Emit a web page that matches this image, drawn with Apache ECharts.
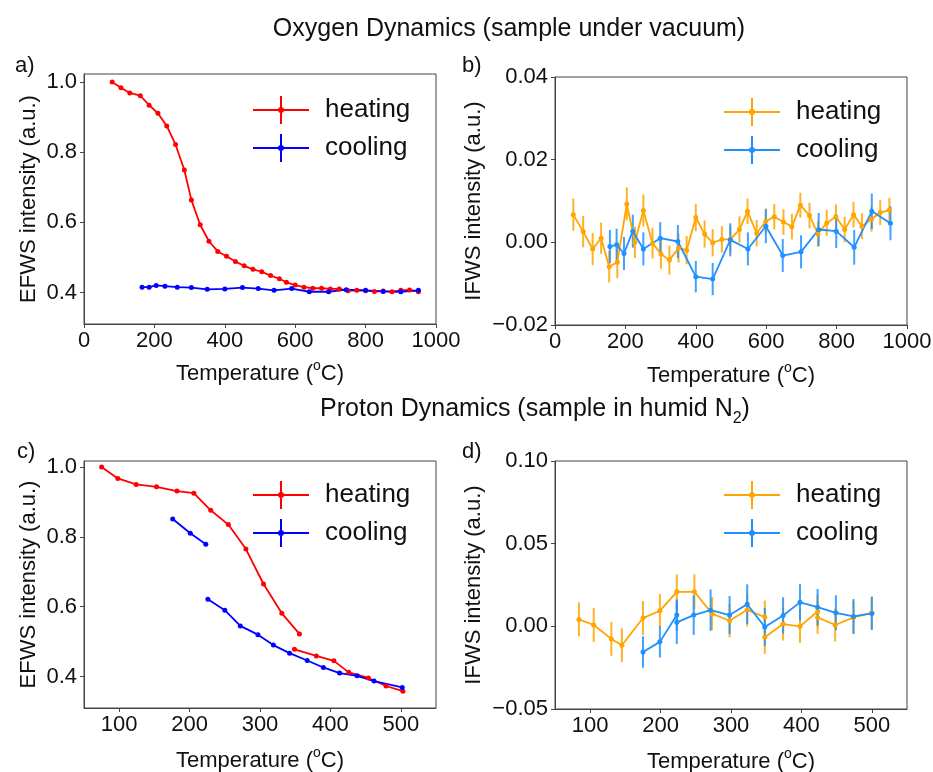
<!DOCTYPE html>
<html lang="en">
<head>
<meta charset="utf-8">
<title>EFWS / IFWS</title>
<script src="https://cdn.jsdelivr.net/npm/echarts@6/dist/echarts.min.js"></script>
<style>
  html, body { margin: 0; background: #fff; }
  #main { width: 933px; height: 772px; }
</style>
</head>
<body>
<div id="main"></div>
<script>
// a) oxygen, EFWS
var aHeatT = [80,105,130,160,185,210,235,260,285,305,330,355,380,405,430,455,480,505,530,555,575,600,625,650,675,700,725,750,775,800,825,850,875,900,925,950];
var aHeatV = [1.0,0.984,0.969,0.961,0.934,0.911,0.875,0.822,0.749,0.664,0.593,0.546,0.517,0.503,0.488,0.476,0.466,0.459,0.448,0.439,0.429,0.421,0.415,0.412,0.412,0.410,0.410,0.405,0.406,0.405,0.403,0.404,0.402,0.406,0.407,0.402];
var aCoolT = [165,185,205,230,265,305,350,400,450,495,540,590,640,695,745,800,850,900,950];
var aCoolV = [0.415,0.415,0.420,0.418,0.415,0.414,0.409,0.410,0.414,0.411,0.406,0.411,0.402,0.402,0.408,0.406,0.403,0.402,0.406];

// b) oxygen, IFWS
var bHeatT = [52,80,107,131,154,177,204,227,251,277,301,325,351,374,400,425,448,474,498,524,547,573,599,623,649,673,697,723,747,772,798,823,848,872,899,924,950];
var bHeatV = [0.0067,0.0026,-0.0016,0.0010,-0.0059,-0.0048,0.0093,0.0000,0.0077,-0.0002,-0.0028,-0.0043,-0.0014,-0.0019,0.0060,0.0020,-0.0001,0.0007,0.0007,0.0031,0.0075,0.0022,0.0051,0.0062,0.0049,0.0038,0.0090,0.0065,0.0020,0.0047,0.0062,0.0031,0.0067,0.0039,0.0056,0.0072,0.0078];
var bHeatE = [0.0039,0.0038,0.0039,0.0038,0.0038,0.0039,0.0040,0.0038,0.0039,0.0037,0.0036,0.0035,0.0035,0.0034,0.0033,0.0033,0.0033,0.0032,0.0032,0.0032,0.0031,0.0032,0.0031,0.0031,0.0031,0.0031,0.0030,0.0031,0.0031,0.0031,0.0030,0.0031,0.0031,0.0031,0.0030,0.0030,0.0030];
var bCoolT = [156,175,196,221,251,299,349,400,448,498,548,599,647,699,749,799,850,900,953];
var bCoolV = [-0.0010,-0.0006,-0.0027,0.0027,-0.0016,0.0010,0.0002,-0.0083,-0.0089,0.0006,-0.0016,0.0039,-0.0032,-0.0023,0.0031,0.0027,-0.0012,0.0075,0.0046];
var bCoolE = [0.0040,0.0039,0.0040,0.0040,0.0040,0.0039,0.0040,0.0038,0.0039,0.0040,0.0040,0.0041,0.0040,0.0040,0.0040,0.0041,0.0042,0.0043,0.0041];

// c) proton, EFWS (two runs each)
var cHeatT1 = [75,98,124,153,182,206,230,255,280,305,331,356];
var cHeatV1 = [1.0,0.967,0.950,0.943,0.931,0.925,0.876,0.835,0.765,0.665,0.581,0.522];
var cHeatT2 = [349,380,405,426,454,479,503];
var cHeatV2 = [0.478,0.459,0.445,0.412,0.396,0.373,0.358];
var cCoolT1 = [176,201,223];
var cCoolV1 = [0.851,0.810,0.779];
var cCoolT2 = [226,250,272,297,319,342,367,390,413,438,462,502];
var cCoolV2 = [0.621,0.590,0.545,0.520,0.490,0.467,0.446,0.426,0.410,0.402,0.387,0.369];

// d) proton, IFWS
var dHeatT1 = [84,105,130,145,175,199,223,248,273,298,323,348];
var dHeatV1 = [0.0042,0.0008,-0.0076,-0.0114,0.0050,0.0094,0.0209,0.0209,0.0077,0.0034,0.0100,0.0056];
var dHeatE1 = [0.0103,0.0103,0.0102,0.0102,0.0103,0.0103,0.0105,0.0105,0.0100,0.0100,0.0100,0.0100];
var dHeatT2 = [348,374,398,423];
var dHeatV2 = [-0.0066,0.0014,0.0000,0.0090];
var dHeatE2 = [0.0100,0.0100,0.0100,0.0100];
var dHeatT3 = [423,448,474,500];
var dHeatV3 = [0.0054,0.0008,0.0054,0.0082];
var dHeatE3 = [0.0100,0.0100,0.0100,0.0100];
var dCoolT1 = [175,199,223];
var dCoolV1 = [-0.0155,-0.0094,0.0068];
var dCoolE1 = [0.0095,0.0095,0.0095];
var dCoolT2 = [223,247,271,298,323,348,374,398,423,449,474,500];
var dCoolV2 = [0.0024,0.0068,0.0098,0.0068,0.0134,-0.0004,0.0066,0.0145,0.0116,0.0082,0.0060,0.0078];
var dCoolE2 = [0.0130,0.0120,0.0125,0.0115,0.0120,0.0115,0.0110,0.0110,0.0110,0.0105,0.0105,0.0100];

var efwsTicks = [0.4, 0.6, 0.8, 1.0];
var tempTicksLow = [100, 200, 300, 400, 500];

var RED = '#ff0000', BLUE = '#0000ff', ORANGE = '#ffa500', SKY = '#1e90ff';
var FONT = '"Liberation Sans", Arial, sans-serif';
var FRAME = '#444';
var INK = '#111';

function pairs(t, v) { return t.map(function (x, i) { return [x, v[i]]; }); }
function bars(t, v, e) { return t.map(function (x, i) { return [x, v[i] - e[i], v[i] + e[i]]; }); }
function minus(s) { return s.replace('-', '\u2212'); }

function lineSeries(name, t, v, color, gi) {
  return {
    type: 'line', name: name, xAxisIndex: gi, yAxisIndex: gi,
    data: pairs(t, v), symbol: 'circle', symbolSize: 5, showSymbol: true,
    itemStyle: { color: color }, lineStyle: { color: color, width: 1.8 },
    z: 3, animation: false
  };
}
function errSeries(t, v, e, color, gi) {
  return {
    type: 'custom', xAxisIndex: gi, yAxisIndex: gi,
    data: bars(t, v, e), encode: { x: 0, y: [1, 2] }, z: 2, animation: false,
    renderItem: function (params, api) {
      var p1 = api.coord([api.value(0), api.value(1)]);
      var p2 = api.coord([api.value(0), api.value(2)]);
      return { type: 'line', shape: { x1: p1[0], y1: p1[1], x2: p2[0], y2: p2[1] },
               style: { stroke: color, lineWidth: 2, opacity: 0.85 } };
    }
  };
}

var nameRich = {
  n: { fontSize: 22, lineHeight: 26, verticalAlign: 'bottom', fontFamily: FONT, color: INK },
  sup: { fontSize: 14, lineHeight: 10, verticalAlign: 'top', fontFamily: FONT, color: INK }
};

function xAxis(gi, min, max, interval, custom, gap) {
  var ax = {
    type: 'value', gridIndex: gi, min: min, max: max,
    name: '{n|Temperature (}{sup|o}{n|C)}', nameLocation: 'middle', nameGap: gap,
    nameTextStyle: { fontSize: 22, fontFamily: FONT, color: INK, rich: nameRich },
    axisLine: { show: true, onZero: false, lineStyle: { color: FRAME, width: 1 } },
    axisTick: { show: true, inside: false, length: 4, lineStyle: { color: FRAME } },
    axisLabel: { fontSize: 22, fontFamily: FONT, color: INK, margin: 6,
                 formatter: function (v) { return String(v); } },
    splitLine: { show: false }
  };
  if (interval) ax.interval = interval;
  if (custom) { ax.axisLabel.customValues = custom; ax.axisTick.customValues = custom; }
  return ax;
}
function yAxis(gi, min, max, name, gap, opts) {
  var ax = {
    type: 'value', gridIndex: gi, min: min, max: max,
    name: name, nameLocation: 'middle', nameGap: gap,
    nameTextStyle: { fontSize: 22, fontFamily: FONT, color: INK },
    axisLine: { show: true, onZero: false, lineStyle: { color: FRAME, width: 1 } },
    axisTick: { show: true, inside: false, length: 4, lineStyle: { color: FRAME } },
    axisLabel: { fontSize: 22, fontFamily: FONT, color: INK, margin: 7, formatter: opts.fmt },
    splitLine: { show: false }
  };
  if (opts.interval) ax.interval = opts.interval;
  if (opts.custom) { ax.axisLabel.customValues = opts.custom; ax.axisTick.customValues = opts.custom; }
  return ax;
}

var ICON = 'path://M0,13h56v2h-56z M27,0h2v28h-2z M28,11a3,3 0 1,1 0,6a3,3 0 1,1 0,-6z';
function legend(left, top, hc, cc) {
  return {
    left: left, top: top, orient: 'vertical', itemWidth: 56, itemHeight: 28, itemGap: 10,
    icon: ICON, selectedMode: false,
    textStyle: { fontSize: 26, fontFamily: FONT, color: INK, padding: [0, 0, 0, 11] },
    data: [{ name: 'heating', itemStyle: { color: hc } }, { name: 'cooling', itemStyle: { color: cc } }]
  };
}
function grid(left, top, width, height) {
  return { left: left, top: top, width: width, height: height, outerBoundsMode: 'none',
           containLabel: false, show: true, borderColor: FRAME, borderWidth: 1 };
}

var fmt1 = function (v) { return v.toFixed(1); };
var fmt2 = function (v) { return minus(v.toFixed(2)); };
var labelStyle = { fontSize: 22, fontWeight: 'normal', fontFamily: FONT, color: INK };

var option = {
  backgroundColor: '#fff',
  animation: false,
  title: [
    { text: 'Oxygen Dynamics (sample under vacuum)', left: 504, top: 12, textAlign: 'center',
      textStyle: { fontSize: 25, fontWeight: 'normal', fontFamily: FONT, color: INK } },
    { text: '{n|Proton Dynamics (sample in humid N}{sub|2}{n|)}', left: 530, top: 392, textAlign: 'center',
      textStyle: { fontSize: 25, fontWeight: 'normal', fontFamily: FONT, color: INK,
        rich: {
          n: { fontSize: 25, lineHeight: 30, verticalAlign: 'top', fontFamily: FONT, color: INK },
          sub: { fontSize: 16, lineHeight: 16, verticalAlign: 'bottom', fontFamily: FONT, color: INK }
        } } },
    { text: 'a)', left: 10, top: 50, textStyle: labelStyle },
    { text: 'b)', left: 457, top: 50, textStyle: labelStyle },
    { text: 'c)', left: 12, top: 436, textStyle: labelStyle },
    { text: 'd)', left: 457, top: 436, textStyle: labelStyle }
  ],
  legend: [
    legend(248, 91, RED, BLUE),
    legend(719, 93, ORANGE, SKY),
    legend(248, 476, RED, BLUE),
    legend(719, 476, ORANGE, SKY)
  ],
  grid: [
    grid(84, 74, 352, 250),
    grid(555, 77, 352, 248),
    grid(84, 461, 352, 247),
    grid(555, 461, 352, 248)
  ],
  xAxis: [
    xAxis(0, 0, 1000, 200, null, 35),
    xAxis(1, 0, 1000, 200, null, 36),
    xAxis(2, 50, 550, null, tempTicksLow, 38),
    xAxis(3, 50, 550, null, tempTicksLow, 38)
  ],
  yAxis: [
    yAxis(0, 0.31, 1.023, 'EFWS intensity (a.u.)', 44, { custom: efwsTicks, fmt: fmt1 }),
    yAxis(1, -0.02, 0.04, 'IFWS intensity (a.u.)', 70, { interval: 0.02, fmt: fmt2 }),
    yAxis(2, 0.31, 1.017, 'EFWS intensity (a.u.)', 44, { custom: efwsTicks, fmt: fmt1 }),
    yAxis(3, -0.05, 0.10, 'IFWS intensity (a.u.)', 70, { interval: 0.05, fmt: fmt2 })
  ],
  series: [
    lineSeries('heating', aHeatT, aHeatV, RED, 0),
    lineSeries('cooling', aCoolT, aCoolV, BLUE, 0),

    errSeries(bHeatT, bHeatV, bHeatE, ORANGE, 1),
    errSeries(bCoolT, bCoolV, bCoolE, SKY, 1),
    lineSeries('heating', bHeatT, bHeatV, ORANGE, 1),
    lineSeries('cooling', bCoolT, bCoolV, SKY, 1),

    lineSeries('heating', cHeatT1, cHeatV1, RED, 2),
    lineSeries('heating', cHeatT2, cHeatV2, RED, 2),
    lineSeries('cooling', cCoolT1, cCoolV1, BLUE, 2),
    lineSeries('cooling', cCoolT2, cCoolV2, BLUE, 2),

    errSeries(dHeatT1, dHeatV1, dHeatE1, ORANGE, 3),
    errSeries(dHeatT2, dHeatV2, dHeatE2, ORANGE, 3),
    errSeries(dHeatT3, dHeatV3, dHeatE3, ORANGE, 3),
    errSeries(dCoolT1, dCoolV1, dCoolE1, SKY, 3),
    errSeries(dCoolT2, dCoolV2, dCoolE2, SKY, 3),
    lineSeries('heating', dHeatT1, dHeatV1, ORANGE, 3),
    lineSeries('heating', dHeatT2, dHeatV2, ORANGE, 3),
    lineSeries('heating', dHeatT3, dHeatV3, ORANGE, 3),
    lineSeries('cooling', dCoolT1, dCoolV1, SKY, 3),
    lineSeries('cooling', dCoolT2, dCoolV2, SKY, 3)
  ]
};

var chart = echarts.init(document.getElementById('main'), null, { renderer: 'canvas' });
chart.setOption(option);
</script>
</body>
</html>
